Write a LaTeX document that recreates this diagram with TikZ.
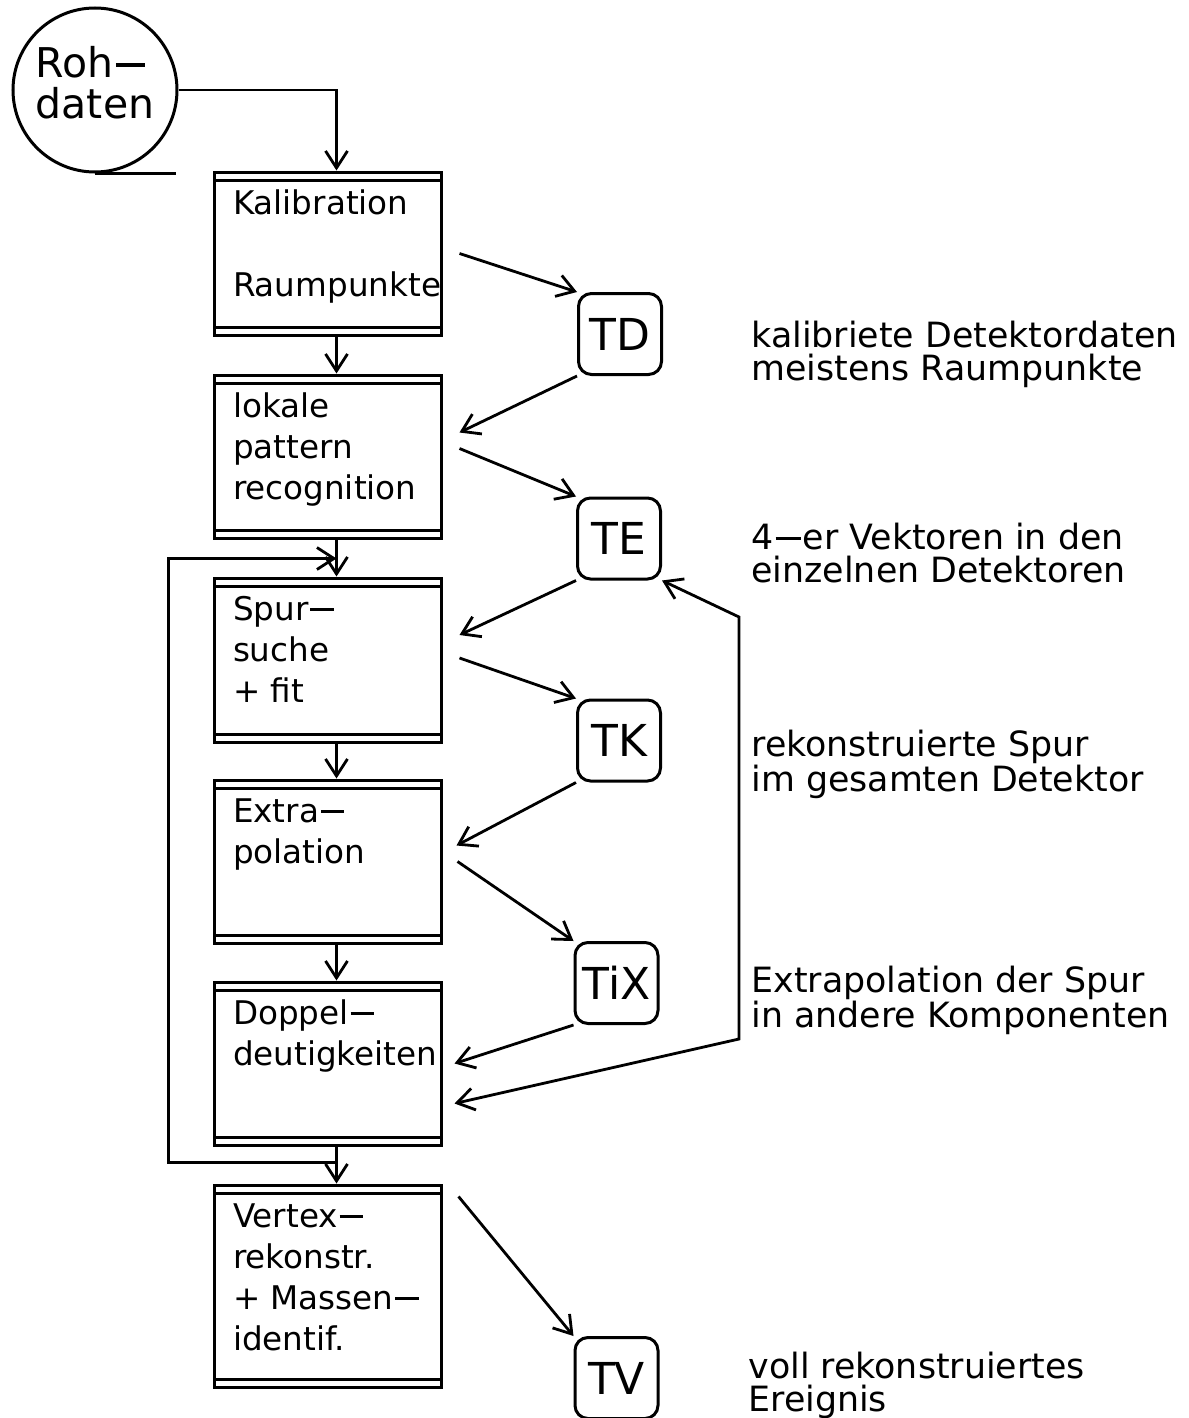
\documentclass[tikz,border=0pt]{standalone}
\usepackage{fontspec}
\setmainfont{DejaVu Sans}
\usetikzlibrary{arrows.meta,calc}

% long hyphen used for word breaks
\newcommand\brk{\kern0.06em\rule[0.27em]{0.72em}{0.085em}\kern0.06em}
% text block of a processing stage: top aligned, fixed height
\newcommand\stagetext[2]{\parbox[c][#1][t]{113.5pt}{\raggedright\leftskip=9.5pt
  \fontsize{16.3pt}{20.5pt}\selectfont\rule{0pt}{21pt}#2}}
% two-line explanation beside a data bank
\newcommand\notetext[1]{\parbox[t]{240pt}{\raggedright
  \fontsize{17.4pt}{16.5pt}\selectfont #1}}

\begin{document}
\lineskiplimit=-100pt
\begin{tikzpicture}[x=0.5pt,y=-0.5pt,line width=1.5pt,
  stage/.style={draw,rectangle,inner sep=0pt,
    path picture={\draw[line width=1.5pt]
      ([yshift=-4pt]path picture bounding box.north west) -- ([yshift=-4pt]path picture bounding box.north east)
      ([yshift=4pt]path picture bounding box.south west) -- ([yshift=4pt]path picture bounding box.south east);}},
  bank/.style={draw,rectangle,rounded corners=6.5pt,minimum width=41.5pt,minimum height=40.5pt,
    inner sep=0pt,font=\fontsize{22pt}{22pt}\selectfont},
  note/.style={anchor=base west,inner sep=0pt},
  flow/.style={-{Straight Barb[length=8.5pt,width=11pt]},line width=1.4pt},
  backflow/.style={{Straight Barb[length=8.5pt,width=11pt]}-{Straight Barb[length=8.5pt,width=11pt]},line width=1.4pt}]

\useasboundingbox[fill=white] (0,0) rectangle (1188,1418);

% raw data source
\node[draw,circle,minimum size=82pt,inner sep=0pt,align=left,
  font=\fontsize{20.5pt}{20.5pt}\selectfont] (roh) at (95,90)
  {Roh\brk\\daten\rule[-7.5pt]{0pt}{7.5pt}};
\draw (roh.south) -- ++(81,0);

% processing chain
\node[stage] (b1) at (327.5,253.5) {\stagetext{81.5pt}{Kalibration\\\mbox{}\\Raumpunkte}};
\node[stage] (b2) at (327.5,456.5) {\stagetext{81.5pt}{lokale\\pattern\\recognition}};
\node[stage] (b3) at (327.5,660)   {\stagetext{82pt}{Spur\brk\\suche\\+ fit}};
\node[stage] (b4) at (327.5,861.5) {\stagetext{81.5pt}{Extra\brk\\polation}};
\node[stage] (b5) at (327.5,1063.5){\stagetext{81.5pt}{Doppel\brk\\deutigkeiten}};
\node[stage] (b6) at (327.5,1286)  {\stagetext{101pt}{Vertex\brk\\rekonstr.\\+ Massen\brk\\identif.}};

% data banks
\node[bank] (td)  at (620,334)    {TD};
\node[bank] (te)  at (619,538.5)  {TE};
\node[bank] (tk)  at (619,740.5)  {TK};
\node[bank] (tix) at (616.5,983)  {TiX};
\node[bank] (tv)  at (616.5,1378) {TV};

% explanations
\node[note] (ntd)  at (750,347)  {\notetext{kalibriete Detektordaten\\meistens Raumpunkte}};
\node[note] (nte)  at (750,549)  {\notetext{4\brk er Vektoren in den\\einzelnen Detektoren}};
\node[note] (ntk)  at (750,756)  {\notetext{rekonstruierte Spur\\im gesamten Detektor}};
\node[note] (ntix) at (750,992)  {\notetext{Extrapolation der Spur\\in andere Komponenten}};
\node[note] (ntv)  at (747,1378) {\notetext{voll rekonstruiertes\\Ereignis}};

% main flow
\draw[flow] (roh.east) -| ($(b1.north west)+(124,0)$);
\foreach \a/\b in {b1/b2,b2/b3,b3/b4,b4/b5,b5/b6}
  \draw[flow] ($(\a.south west)+(124,0)$) -- ($(\b.north west)+(124,0)$);

% iteration loop around track finding
\coordinate (loopin)  at ($(b3.north west)+(124,-18)$);
\coordinate (loopout) at ($(b6.north west)+(124,-21)$);
\draw[flow] (loopout) -| ($(b3.north west)+(-44,-18)$) -- (loopin);

% exchanges with the data banks
\draw[flow] ($(b1.east)+(17,0)$) -- (td.north west);
\draw[flow] (td.south west) -- ($(b2.east)+(17,-24)$);
\draw[flow] ($(b2.east)+(17,-8)$) -- (te.north west);
\draw[flow] (te.south west) -- ($(b3.east)+(17,-25)$);
\draw[flow] ($(b3.east)+(17,-2)$) -- (tk.north west);
\draw[flow] (tk.south west) -- ($(b4.east)+(14,-16)$);
\draw[flow] ($(b4.east)+(15,0)$) -- (tix.north west);
\draw[flow] (tix.south west) -- ($(b5.east)+(12,0)$);
\coordinate (backlow)  at (739,1039);
\coordinate (backhigh) at (739,617);
\draw[backflow] ($(b5.east)+(12,40)$) -- (backlow) -- (backhigh) -- (te.south east);
\draw[flow] ($(b6.north east)+(16,13)$) -- (tv.north west);
\end{tikzpicture}
\end{document}
